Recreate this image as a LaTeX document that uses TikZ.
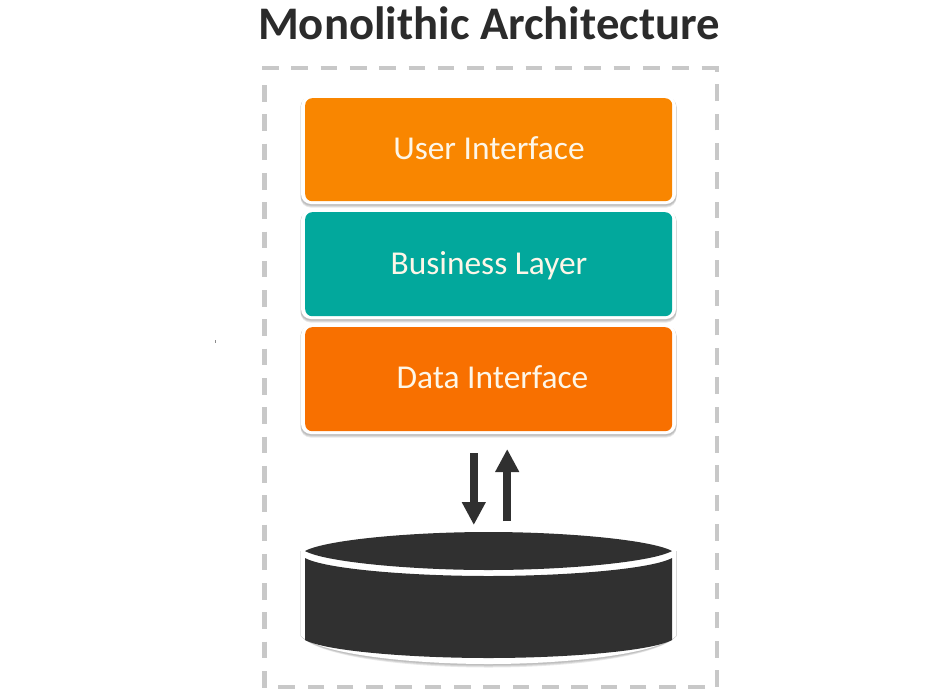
\documentclass[tikz,border=0pt]{standalone}
\usepackage{fontspec}
\setmainfont{Carlito}
\usetikzlibrary{arrows.meta,calc}
\definecolor{orangeA}{HTML}{F98600}
\definecolor{tealA}{HTML}{02A89C}
\definecolor{orangeB}{HTML}{F87000}
\definecolor{darkA}{HTML}{303030}
\definecolor{dashA}{HTML}{C8C8C8}
\definecolor{titleA}{HTML}{2B2B2B}
\definecolor{labelA}{HTML}{FDF6E8}
\tikzset{
  layer/.style={rounded corners=7pt,minimum width=367pt,inner sep=0pt,anchor=north west},
  layertext/.style={text=labelA,font=\fontsize{33.4}{38}\selectfont},
  halo/.style={fill=white,rounded corners=10pt},
  haloshade/.style={fill=black,fill opacity=0.09,rounded corners=10pt},
  flow/.style={draw=darkA,line width=7.6pt,-{Triangle[length=23pt,width=22.5pt]}},
  frameline/.style={draw=dashA,line width=4.6pt,dash pattern=on 16.6pt off 12.7pt},
}
\begin{document}
\begin{tikzpicture}[x=1pt,y=-1pt]
\useasboundingbox (0,0) rectangle (945,694);
\fill[white] (0,0) rectangle (945,694);
% title
\node[font=\bfseries\fontsize{46.7}{52}\selectfont,text=titleA] (title) at (489,23) {Monolithic Architecture};
% frame
\draw[frameline] (262,68) -- (719,68);
\draw[frameline] (705,687) -- (278,687);
\draw[frameline] (264.3,85) -- (264.3,688);
\draw[frameline] (717,687) -- (717,66);
% halos
\foreach \t/\b in {97/204,211/319,326/434}{
  \fill[haloshade] (300.5,\t) rectangle (676.5,\b+3.5);
  \fill[haloshade] (300.5,\t) rectangle (676.5,\b+2.5);
  \fill[haloshade] (300.5,\t) rectangle (676.5,\b+1.5);
  \fill[halo] (301,\t-1) rectangle (676,\b);
}
% layers
\node[layer,fill=orangeA,minimum height=103pt] (ui) at (305,98) {};
\node[layer,fill=tealA,minimum height=104pt] (biz) at (305,212) {};
\node[layer,fill=orangeB,minimum height=104pt] (data) at (305,327) {};
\node[layertext] (uit) at (489,148) {User Interface};
\node[layertext] (bizt) at (489,266) {Business Layer};
\node[layertext] (datat) at (492.5,377.5) {Data Interface};
% database
\foreach \e in {3.5,2.5,1.5}{
  \fill[black,fill opacity=0.09] (300.5,551) -- (300.5,636) .. controls (320,\e+654) and (410,\e+664) .. (488.5,\e+664) .. controls (567,\e+664) and (657,\e+654) .. (676.5,636) -- (676.5,551) -- cycle;
}
\fill[white] (301,551) -- (301,636) .. controls (320,654) and (410,664) .. (488.5,664) .. controls (567,664) and (657,654) .. (676,636) -- (676,551) -- cycle;
\fill[darkA] (305,558) -- (305,640) .. controls (325,651) and (410,658) .. (488.5,658) .. controls (567,658) and (652,651) .. (672,640) -- (672,558) .. controls (652,569) and (567,576) .. (488.5,576) .. controls (410,576) and (325,569) .. (305,558) -- cycle;
\coordinate (db) at (488.5,551);
\fill[darkA] (305,551) .. controls (325,540) and (410,532) .. (488.5,532) .. controls (567,532) and (652,540) .. (672,551) .. controls (652,562) and (567,570) .. (488.5,570) .. controls (410,570) and (325,562) .. (305,551) -- cycle;
% arrows
\coordinate (downS) at (473.8,453);
\coordinate (downE) at (473.8,525);
\coordinate (upS) at (507.2,521);
\coordinate (upE) at (507.2,449);
\draw[flow] (downS) -- (downE);
\draw[flow] (upS) -- (upE);
% speck
\fill[black!45] (214.5,339.5) rectangle (215.5,342.5);
\end{tikzpicture}
\end{document}
